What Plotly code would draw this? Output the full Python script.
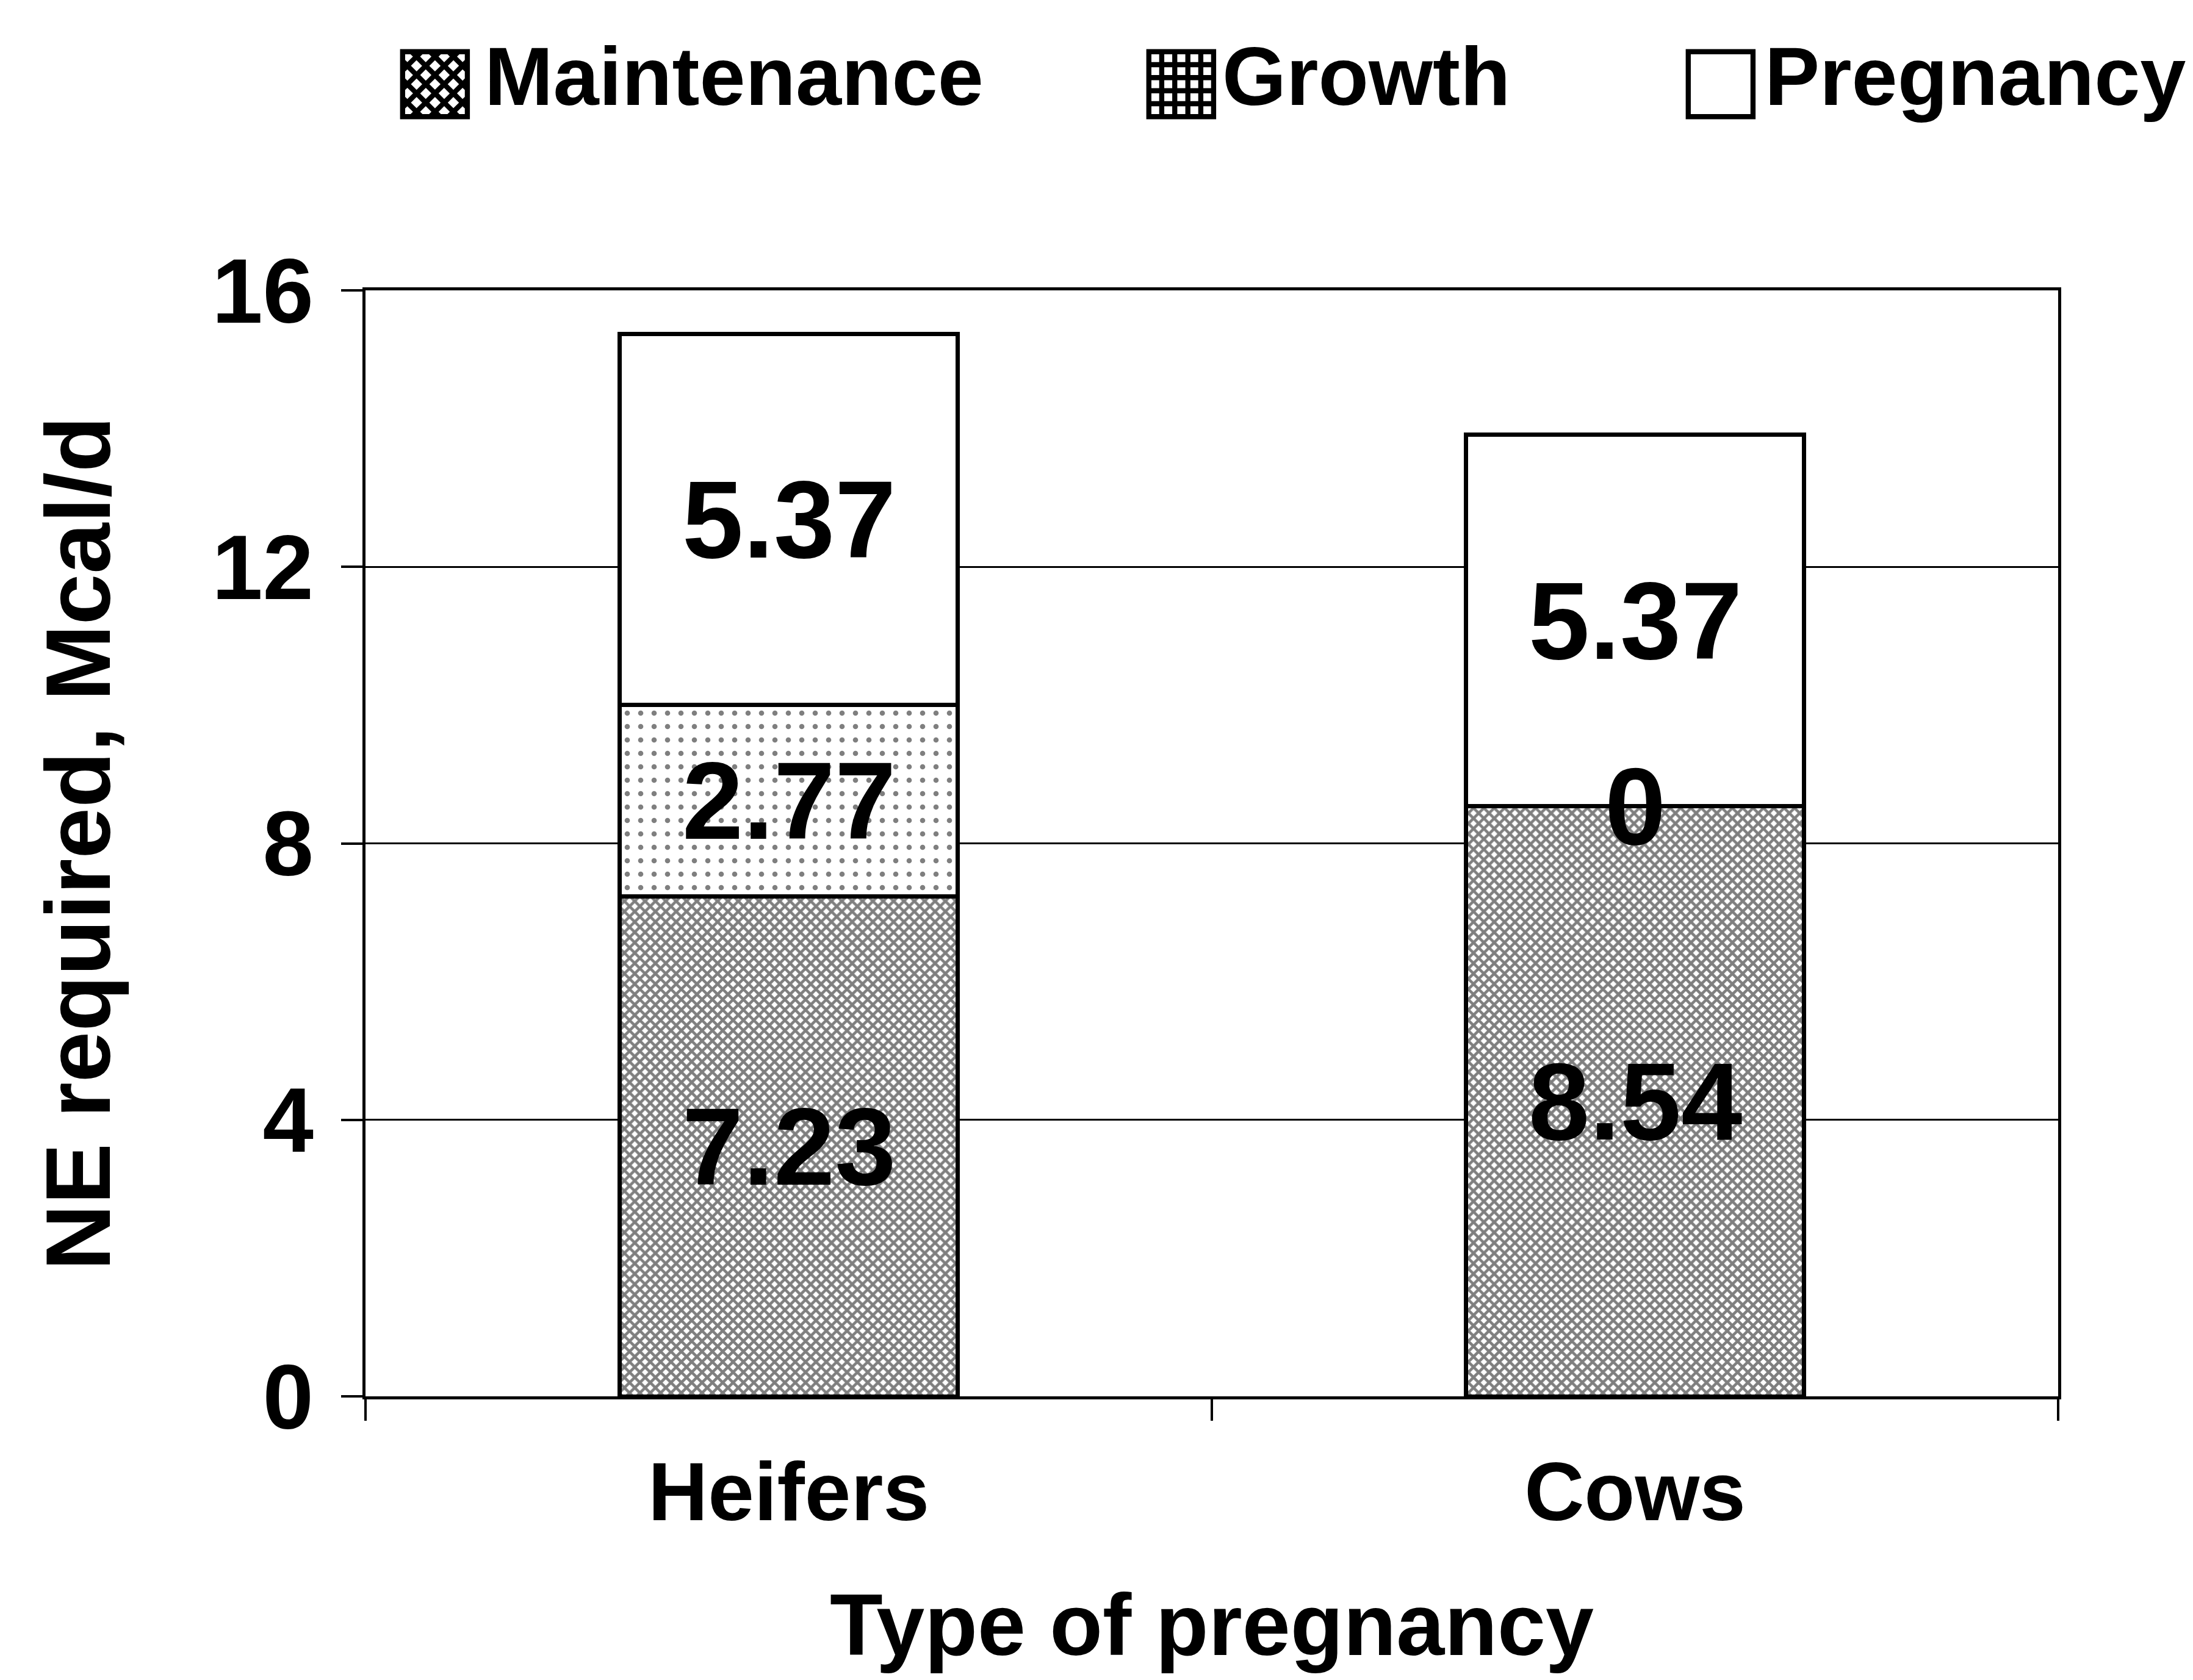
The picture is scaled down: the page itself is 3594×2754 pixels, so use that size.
import plotly.graph_objects as go

# ---- data ----
categories = ["Heifers", "Cows"]
series_names = ["Maintenance", "Growth", "Pregnancy"]
maintenance = [7.23, 8.54]
growth = [2.77, 0]
pregnancy = [5.37, 5.37]
y_ticks = [0, 4, 8, 12, 16]
y_title = "NE required, Mcal/d"
x_title = "Type of pregnancy"

series_values = [maintenance, growth, pregnancy]

# ---- styles ----
FONT = "Liberation Sans, Arial, sans-serif"
patterns = [
    dict(shape="x", fgcolor="black", bgcolor="white", size=12, solidity=0.62),
    dict(shape=".", fgcolor="black", bgcolor="white", size=22, solidity=0.12),
    dict(shape="", fgcolor="black", bgcolor="white"),
]
legend_glyphs = ["\u25A9", "\u25A6", "\u25A1"]
legend_glyph_x = [0.0411, 0.4820, 0.8007]
legend_text_x = [0.0696, 0.5054, 0.8259]
legend_y = 1.1936

fig = go.Figure()
for name, vals, pat in zip(series_names, series_values, patterns):
    fig.add_trace(go.Bar(
        x=categories, y=vals, name=name,
        marker=dict(color="white", pattern=pat, line=dict(color="black", width=7)),
        showlegend=False,
    ))

annotations = []
# value labels centred in each segment
for ci, cat in enumerate(categories):
    base = 0.0
    for vals in series_values:
        v = vals[ci]
        annotations.append(dict(
            x=cat, y=base + v / 2, xref="x", yref="y", text=f"{v:g}",
            showarrow=False, xanchor="center", yanchor="middle",
            font=dict(family=FONT, size=180, color="black", weight="bold"),
        ))
        base += v

# legend built from annotations
for name, glyph, gx, tx in zip(series_names, legend_glyphs, legend_glyph_x, legend_text_x):
    annotations.append(dict(
        x=gx, y=legend_y, xref="paper", yref="paper", text=glyph,
        showarrow=False, xanchor="center", yanchor="middle",
        font=dict(family="DejaVu Sans", size=150, color="black"),
    ))
    annotations.append(dict(
        x=tx, y=legend_y, xref="paper", yref="paper", text=name,
        showarrow=False, xanchor="left", yanchor="middle",
        font=dict(family=FONT, size=135, color="black", weight="bold"),
    ))

fig.update_layout(
    width=3594, height=2754,
    margin=dict(l=591, r=229, t=468, b=473),
    paper_bgcolor="white", plot_bgcolor="white",
    barmode="stack", bargap=0.6,
    annotations=annotations,
    font=dict(family=FONT, color="black"),
)
fig.update_yaxes(
    range=[0, 16], tickvals=y_ticks, ticktext=[str(t) for t in y_ticks],
    showgrid=True, gridcolor="black", gridwidth=3,
    showline=True, linecolor="black", linewidth=5, mirror=True,
    ticks="outside", ticklen=35, tickwidth=4, tickcolor="black",
    zeroline=False, automargin=False,
    tickfont=dict(family=FONT, size=150, color="black", weight="bold"),
    ticklabelstandoff=15,
    title=dict(text=y_title, font=dict(family=FONT, size=150, color="black", weight="bold"), standoff=117),
)
fig.update_xaxes(
    showline=True, linecolor="black", linewidth=5, mirror=True,
    ticks="outside", ticklen=35, tickwidth=4, tickcolor="black",
    tickson="boundaries", showgrid=False, automargin=False,
    tickfont=dict(family=FONT, size=136, color="black", weight="bold"),
    ticklabelstandoff=35,
    title=dict(text=x_title, font=dict(family=FONT, size=142, color="black", weight="bold"), standoff=95),
)

fig.write_html("out.html")
